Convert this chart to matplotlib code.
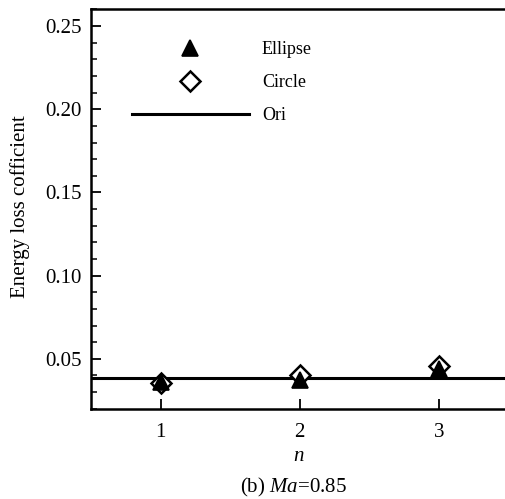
import numpy as np
import matplotlib
matplotlib.use('Agg')
import matplotlib.pyplot as plt
from matplotlib.ticker import MultipleLocator, FormatStrFormatter

plt.rcParams['font.family'] = ['Liberation Serif', 'DejaVu Serif']
plt.rcParams['mathtext.fontset'] = 'custom'
plt.rcParams['mathtext.rm'] = 'Liberation Serif'
plt.rcParams['mathtext.it'] = 'Liberation Serif:italic'

# values
n = [1, 2, 3]
ellipse = [0.0360, 0.0370, 0.0440]
circle = [0.0357, 0.0400, 0.0457]
ori = 0.0384

fig = plt.figure(figsize=(5.05, 4.99), dpi=100)
ax = fig.add_axes([0.1802, 0.181, 0.8267, 0.800])

ax.axhline(ori, color='black', lw=2.2, label='Ori', zorder=2)
ax.plot(n, circle, ls='none', marker='D', ms=10, mfc='white', mec='black',
        mew=1.8, label='Circle', zorder=3)
ax.plot(n, ellipse, ls='none', marker='^', ms=11.5, mfc='black', mec='black',
        mew=1.2, label='Ellipse', zorder=4)

ax.set_xlim(0.5, 3.5)
ax.set_ylim(0.02, 0.26)
ax.set_xticks(n)
ax.yaxis.set_major_locator(MultipleLocator(0.05))
ax.yaxis.set_minor_locator(MultipleLocator(0.01))
ax.yaxis.set_major_formatter(FormatStrFormatter('%.2f'))

for s in ax.spines.values():
    s.set_linewidth(1.8)
ax.tick_params(axis='both', which='major', direction='in', length=7.5, width=1.3,
               labelsize=15, top=False, right=False)
ax.tick_params(axis='y', which='minor', direction='in', length=4.5, width=1.1, right=False)
ax.tick_params(axis='y', which='major', pad=7)
ax.tick_params(axis='x', which='major', pad=10)

h, l = ax.get_legend_handles_labels()
order = [2, 1, 0]
ax.legend([h[i] for i in order], [l[i] for i in order], loc='upper left',
          bbox_to_anchor=(0.261, 0.918), bbox_transform=fig.transFigure,
          frameon=False, fontsize=13, handlelength=6.5, handletextpad=0.7,
          labelspacing=0.9, borderpad=0, borderaxespad=0)

fig.text(0.0396, 0.585, 'Energy loss cofficient', rotation=90, fontsize=15,
         ha='center', va='center')
fig.text(0.592, 0.086, 'n', fontsize=15, style='italic', ha='center', va='center')
fig.text(0.582, 0.024, r'(b) $\mathit{Ma}$=0.85', fontsize=15, ha='center', va='center')

fig.savefig('out.png', dpi=100)
